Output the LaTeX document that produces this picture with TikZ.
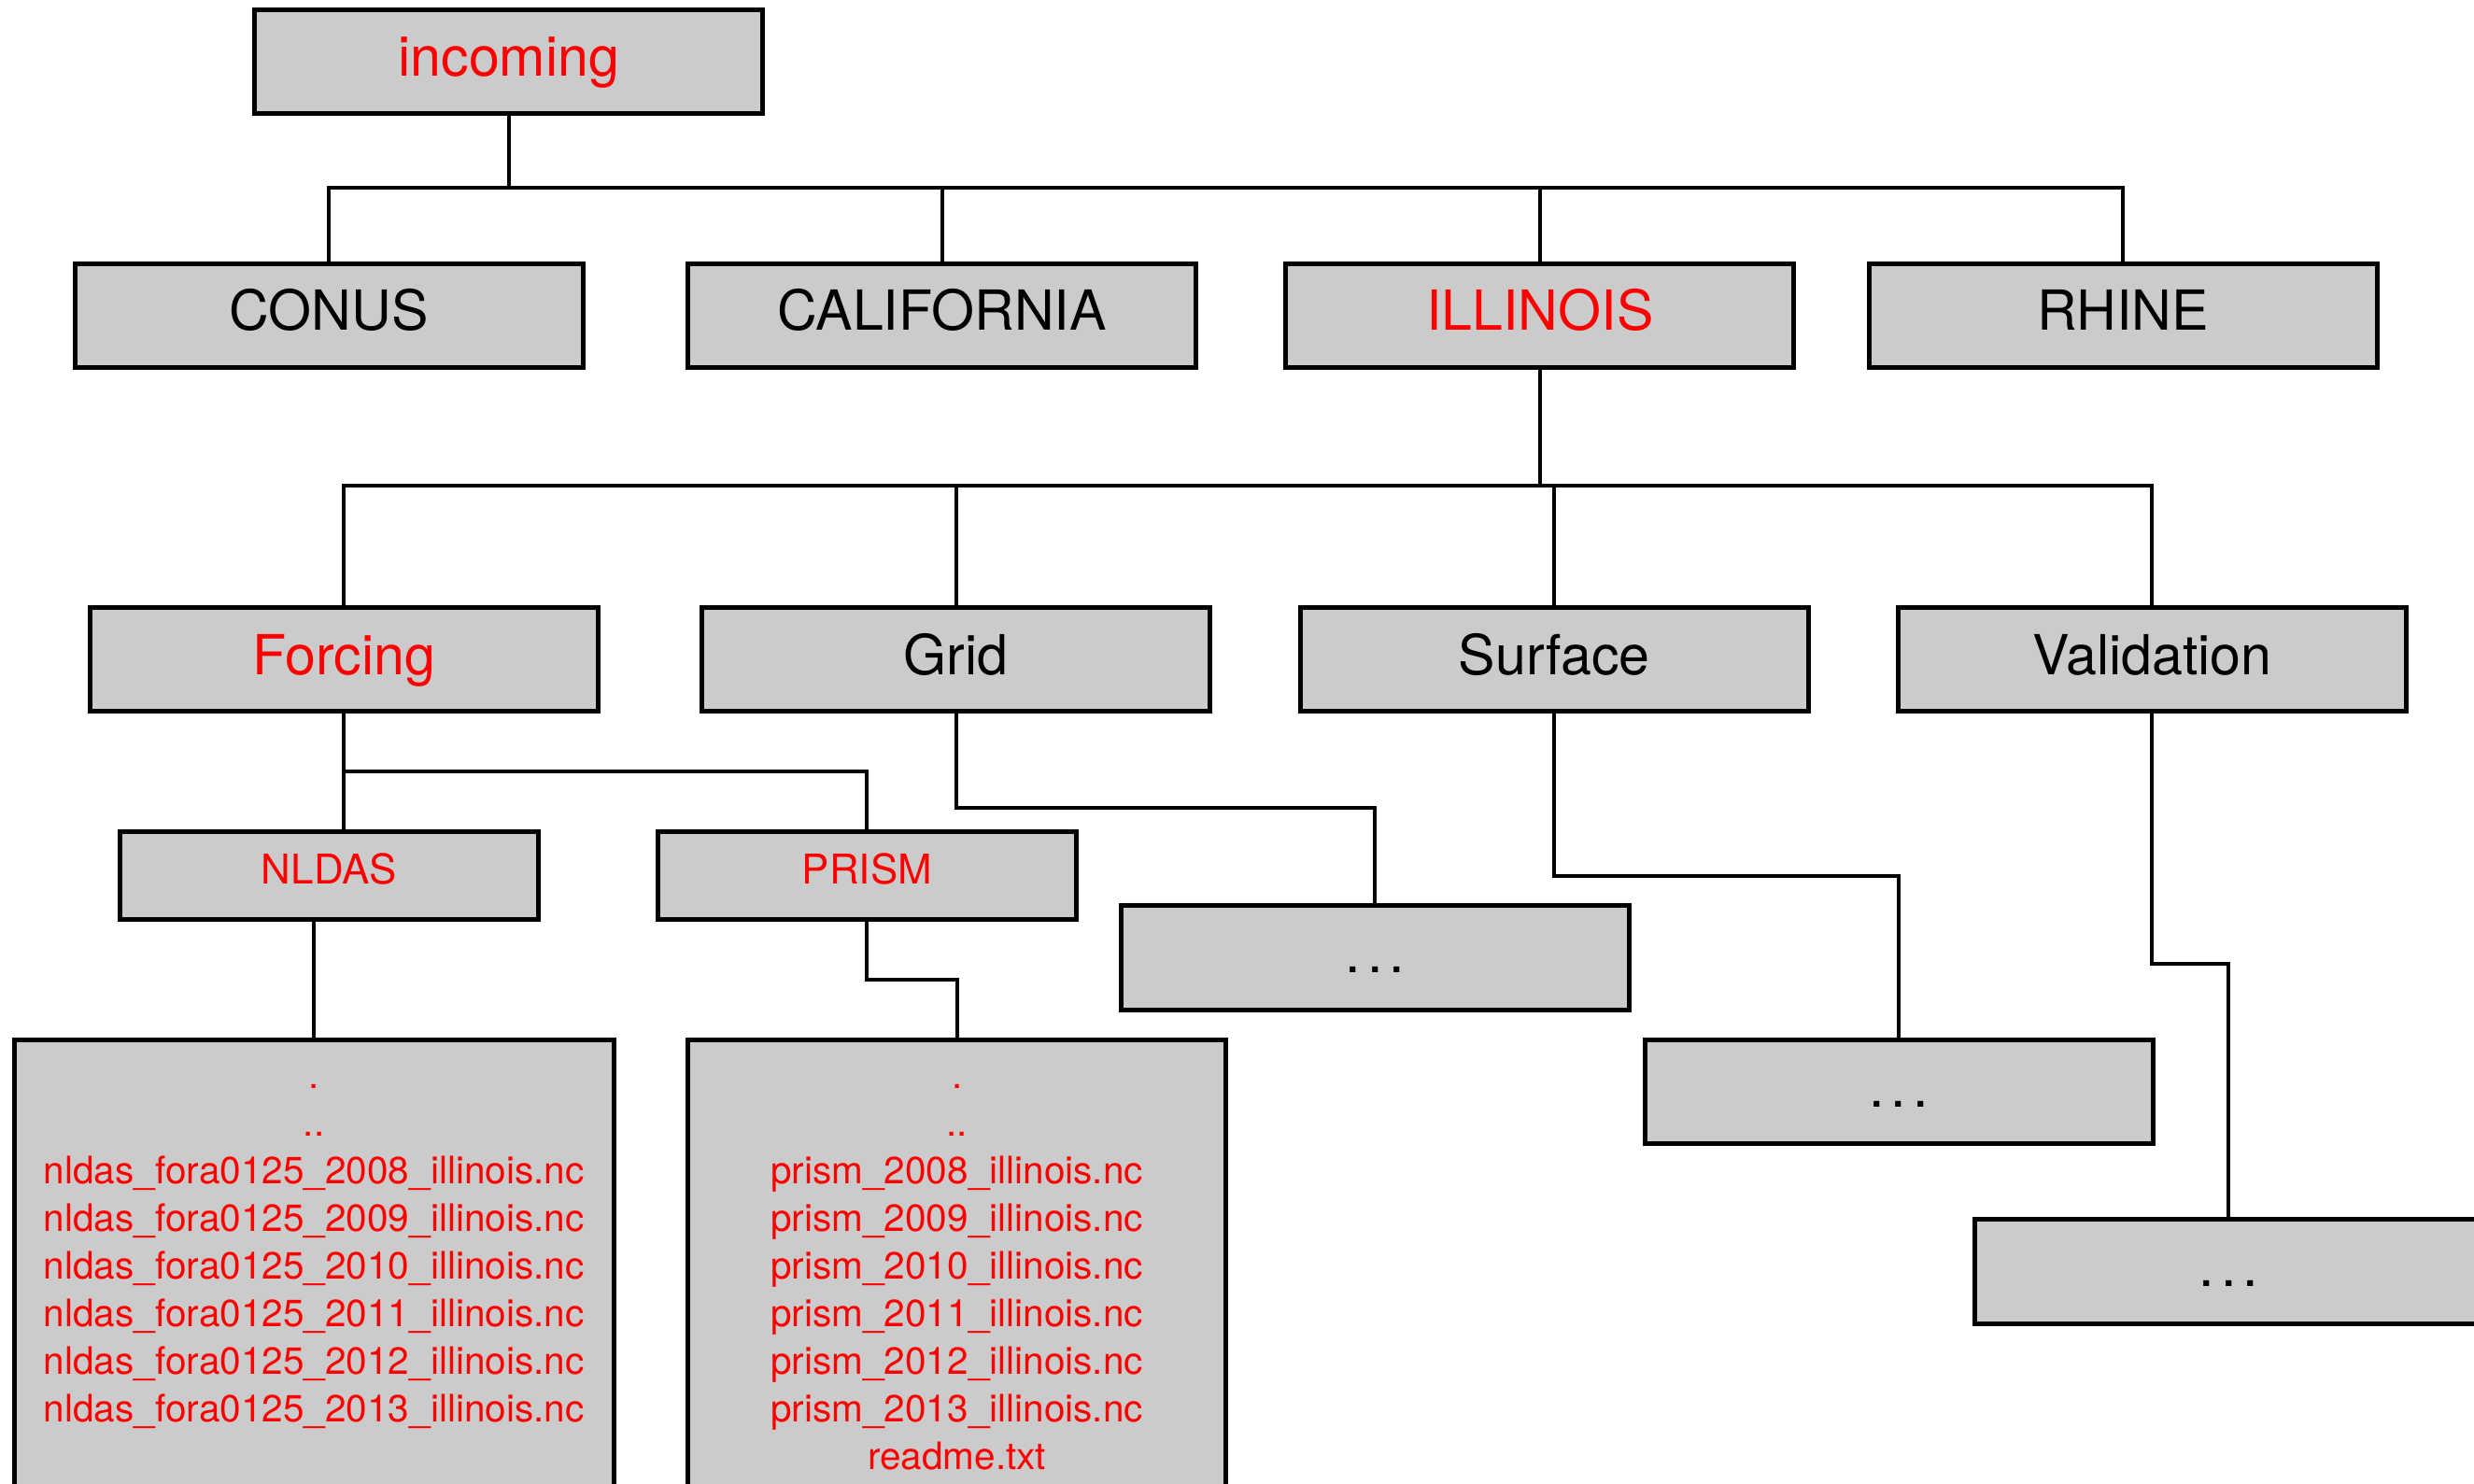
\documentclass[tikz,border=0pt]{standalone}
\usepackage{fontspec}
\setmainfont{TeX Gyre Heros}
\usetikzlibrary{calc}
\definecolor{boxgray}{RGB}{203,203,203}
\definecolor{labred}{RGB}{255,0,0}
\newcommand{\wdots}{.\kern4.3pt.\kern4.3pt.}
\begin{document}
\begin{tikzpicture}[x=1pt,y=-1pt,
  box/.style={draw=black, fill=boxgray, line width=3pt, rectangle, inner sep=0pt, outer sep=0pt,
    minimum width=322pt, minimum height=66pt, font=\fontsize{35}{42}\selectfont, text height=25pt, text depth=6pt},
  smallbox/.style={box, minimum width=265pt, minimum height=56pt, font=\fontsize{26}{31}\selectfont, text height=19pt, text depth=8pt},
  filebox/.style={draw=black, fill=boxgray, line width=3pt, rectangle, inner sep=0pt, outer sep=0pt, anchor=north, minimum height=320pt},
  filetext/.style={text=labred, font=\fontsize{24}{30}\selectfont, anchor=base, inner sep=0pt},
  hl/.style={text=labred},
  conn/.style={line width=2.4pt, line join=miter}
]
\useasboundingbox (0,0) rectangle (1568,940);
\fill[white] (0,0) rectangle (1568,940);
\clip (0,0) rectangle (1568,940);

% nodes
\node[box, hl] (incoming) at (322.5,39) {incoming};
\node[box] (conus) at (208.5,200) {CONUS};
\node[box] (california) at (597,200) {CALIFORNIA};
\node[box, hl] (illinois) at (976,200) {ILLINOIS};
\node[box] (rhine) at (1345.5,200) {RHINE};

\node[box, hl] (forcing) at (218,418) {Forcing};
\node[box] (grid) at (606,418) {Grid};
\node[box] (surface) at (985,418) {Surface};
\node[box] (validation) at (1364,418) {Validation};

\node[smallbox, hl] (nldas) at (208.5,555) {NLDAS};
\node[smallbox, hl] (prism) at (549.5,555) {PRISM};

\node[box] (gridkid) at (871.5,607) {\wdots};
\node[box] (surfkid) at (1203.5,692) {\wdots};
\node[box] (validkid) at (1412.5,806) {\wdots};

\node[filebox, minimum width=380pt] (nldasfiles) at (199,659) {};
\node[filebox, minimum width=341pt] (prismfiles) at (606.5,659) {};

\foreach \t [count=\i] in {{.},{..},nldas\_fora0125\_2008\_illinois.nc,nldas\_fora0125\_2009\_illinois.nc,nldas\_fora0125\_2010\_illinois.nc,nldas\_fora0125\_2011\_illinois.nc,nldas\_fora0125\_2012\_illinois.nc,nldas\_fora0125\_2013\_illinois.nc}
  \node[filetext] (nt\i) at (199,{689.6+30.2*(\i-1)}) {\t};
\foreach \t [count=\i] in {{.},{..},prism\_2008\_illinois.nc,prism\_2009\_illinois.nc,prism\_2010\_illinois.nc,prism\_2011\_illinois.nc,prism\_2012\_illinois.nc,prism\_2013\_illinois.nc,readme.txt}
  \node[filetext] (pt\i) at (606.5,{689.6+30.2*(\i-1)}) {\t};

% bend coordinates
\coordinate (bus1) at (322.5,119);
\coordinate (bus2) at (976,308);
\coordinate (fbus) at (218,489);
\coordinate (gb) at (871.5,512);
\coordinate (sb) at (1203.5,555);
\coordinate (vb) at (1412.5,611);
\coordinate (pb) at (606.5,621);

% connectors
\draw[conn] (incoming.south) -- (bus1);
\foreach \n in {conus,california,illinois,rhine}
  \draw[conn] (\n.north) |- (bus1);
\draw[conn] (illinois.south) -- (bus2);
\foreach \n in {forcing,grid,surface,validation}
  \draw[conn] (\n.north) |- (bus2);
\draw[conn] (forcing.south) -- (forcing.south |- nldas.north);
\draw[conn] (prism.north) |- (fbus);
\draw[conn] (grid.south) |- (gb) -- (gridkid.north);
\draw[conn] (surface.south) |- (sb) -- (surfkid.north);
\draw[conn] (validation.south) |- (vb) -- (validkid.north);
\draw[conn] (nldasfiles.north) -- (nldasfiles.north |- nldas.south);
\draw[conn] (prism.south) |- (pb) -- (prismfiles.north);
\end{tikzpicture}
\end{document}
